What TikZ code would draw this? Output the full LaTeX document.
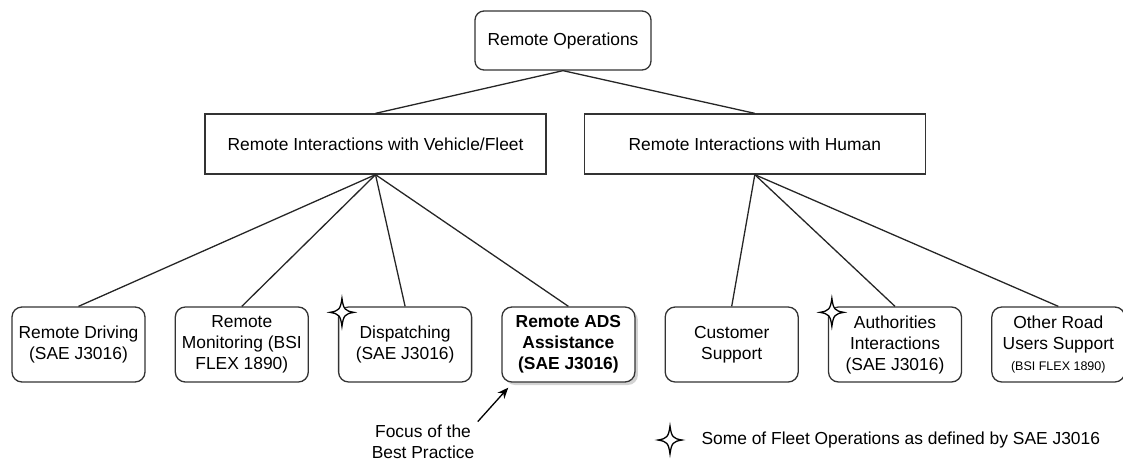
\documentclass[tikz,border=0pt]{standalone}
\usepackage{fontspec}
\setmainfont{Liberation Sans}
\usetikzlibrary{arrows.meta, positioning, shadows, calc}
\tikzset{
    rootbox/.style={rectangle, rounded corners=9pt, draw=black!80, line width=1.3pt, minimum width=176pt, minimum height=59pt},
    groupbox/.style={rectangle, draw=black!80, line width=1.3pt, minimum width=341pt, minimum height=60pt},
    leafbox/.style={rectangle, rounded corners=10pt, draw=black!80, line width=1.3pt, fill=white, minimum width=133pt, minimum height=75pt, align=center, inner sep=2pt},
    focusbox/.style={leafbox, font=\fontsize{17.4}{21}\selectfont\bfseries, drop shadow={shadow xshift=3pt, shadow yshift=-3pt, opacity=0.35}},
    link/.style={line width=1.3pt, draw=black!85},
    arrow/.style={-{Stealth[length=11pt, width=9pt]}, line width=1.3pt},
    opstar/.pic={\draw[line width=1.3pt, fill=white] (0,-14) .. controls (1.5,-3) and (3,-1.5) .. (12,0) .. controls (3,1.5) and (1.5,3) .. (0,14) .. controls (-1.5,3) and (-3,1.5) .. (-12,0) .. controls (-3,-1.5) and (-1.5,-3) .. cycle;}
}
\begin{document}
\begin{tikzpicture}[x=1pt, y=-1pt, node distance=29pt, font=\fontsize{17.4}{21}\selectfont]
    \useasboundingbox (0,0) rectangle (1123,464);
    \node (root) [rootbox] at (563,40.5) {Remote Operations};
    \node (fleet) [groupbox] at (375.5,144) {Remote Interactions with Vehicle/Fleet};
    \node (human) [groupbox, right=37pt of fleet] {Remote Interactions with Human};

    \node (driving) [leafbox] at (78.5,344.5) {Remote Driving\\(SAE J3016)};
    \node (monitoring) [leafbox, right=of driving] {Remote\\Monitoring (BSI\\FLEX 1890)};
    \node (dispatching) [leafbox, right=of monitoring] {Dispatching\\(SAE J3016)};
    \node (ads) [focusbox, right=of dispatching] {Remote ADS\\Assistance\\(SAE J3016)};
    \node (customer) [leafbox, right=of ads] {Customer\\Support};
    \node (authorities) [leafbox, right=of customer] {Authorities\\Interactions\\(SAE J3016)};
    \node (otherusers) [leafbox, right=of authorities] {Other Road\\Users Support\\{\fontsize{12.5}{15}\selectfont(BSI FLEX 1890)}};

    \node (focus) [align=center] at (423,442) {Focus of the\\Best Practice};
    \node (legend) [anchor=west] at (698,440) {Some of Fleet Operations as defined by SAE J3016};

    \draw[link] (root.south) -- (fleet.north);
    \draw[link] (root.south) -- (human.north);
    \foreach \leaf in {driving, monitoring, dispatching, ads}
        \draw[link] (fleet.south) -- (\leaf.north);
    \foreach \leaf in {customer, authorities, otherusers}
        \draw[link] (human.south) -- (\leaf.north);
    \draw[arrow] (focus.north east) -- ($(ads.south west)+(7,5)$);

    % fleet operations markers
    \pic at ($(dispatching.north west)+(4,6)$) {opstar};
    \pic at ($(authorities.north west)+(4,6)$) {opstar};
    \pic at ($(legend.west)+(-28,0)$) {opstar};
\end{tikzpicture}
\end{document}
